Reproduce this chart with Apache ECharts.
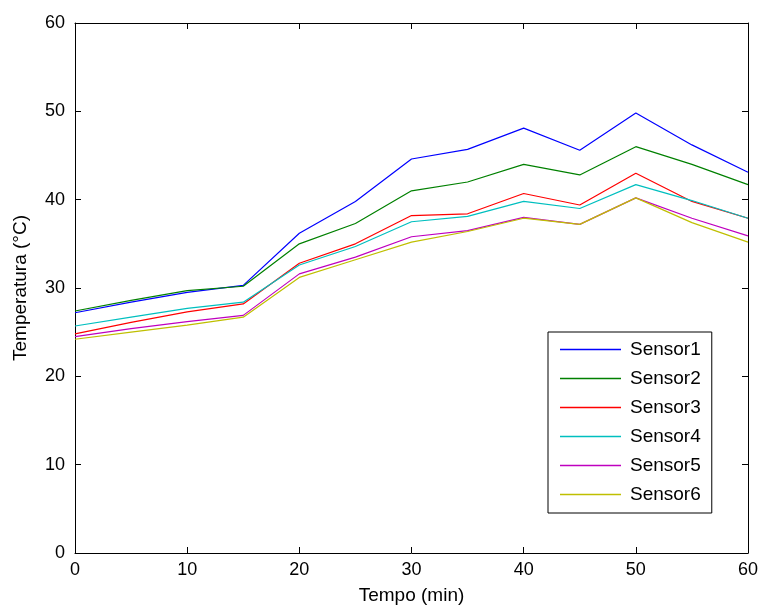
<!DOCTYPE html>
<html>
<head>
<meta charset="utf-8">
<script src="https://cdn.jsdelivr.net/npm/echarts@6/dist/echarts.min.js"></script>
<style>html,body{margin:0;padding:0;background:#fff}#c{width:760px;height:608px}</style>
</head>
<body>
<div id="c"></div>
<script>
const minutes = [0, 5, 10, 15, 20, 25, 30, 35, 40, 45, 50, 55, 60];
const sensor1 = [27.2, 28.4, 29.5, 30.3, 36.2, 39.8, 44.6, 45.7, 48.1, 45.6, 49.8, 46.2, 43.1];
const sensor2 = [27.4, 28.6, 29.7, 30.2, 35.0, 37.3, 41.0, 42.0, 44.0, 42.8, 46.0, 44.0, 41.7];
const sensor3 = [24.8, 26.1, 27.3, 28.2, 32.8, 35.0, 38.2, 38.4, 40.7, 39.4, 43.0, 39.8, 37.9];
const sensor4 = [25.7, 26.7, 27.7, 28.4, 32.6, 34.7, 37.5, 38.1, 39.8, 39.0, 41.7, 39.9, 37.9];
const sensor5 = [24.5, 25.4, 26.2, 26.9, 31.6, 33.5, 35.8, 36.5, 38.0, 37.2, 40.2, 37.9, 35.9];
const sensor6 = [24.2, 25.0, 25.8, 26.7, 31.2, 33.2, 35.2, 36.4, 37.9, 37.2, 40.2, 37.4, 35.2];
const seriesNames = ['Sensor1', 'Sensor2', 'Sensor3', 'Sensor4', 'Sensor5', 'Sensor6'];
const seriesValues = [sensor1, sensor2, sensor3, sensor4, sensor5, sensor6];
const seriesColors = ['#0000ff', '#008000', '#ff0000', '#00bfbf', '#bf00bf', '#bfbf00'];

const FONT = 'Liberation Sans, Arial, sans-serif';
const chart = echarts.init(document.getElementById('c'), null, {renderer: 'canvas'});
const axisCommon = {
  min: 0, max: 60, interval: 10,
  axisLine: {show: true, onZero: false, lineStyle: {color: '#000', width: 1}},
  axisTick: {show: true, inside: true, length: 6, lineStyle: {color: '#000'}},
  splitLine: {show: false}
};
chart.setOption({
  animation: false,
  backgroundColor: '#fff',
  color: seriesColors,
  textStyle: {fontFamily: FONT},
  grid: {left: 75, right: 12, top: 23, bottom: 55, containLabel: false, outerBoundsMode: 'none'},
  legend: {
    orient: 'vertical',
    left: 548, top: 332,
    padding: [8, 11, 9, 12],
    borderColor: '#000', borderWidth: 1, backgroundColor: '#fff',
    icon: 'rect',
    itemWidth: 61, itemHeight: 1.5, itemGap: 10,
    textStyle: {fontSize: 19, color: '#000', fontFamily: FONT, padding: [0, 0, 0, 4]},
    data: seriesNames
  },
  xAxis: [
    Object.assign({type: 'value', position: 'bottom',
      name: 'Tempo (min)', nameLocation: 'middle', nameGap: 33,
      nameTextStyle: {fontSize: 19, color: '#000', fontFamily: FONT},
      axisLabel: {fontSize: 18, color: '#000', margin: 8, fontFamily: FONT}}, axisCommon),
    Object.assign({type: 'value', position: 'top', axisLabel: {show: false}}, axisCommon)
  ],
  yAxis: [
    Object.assign({type: 'value', position: 'left',
      name: 'Temperatura (°C)', nameLocation: 'middle', nameGap: 45,
      nameTextStyle: {fontSize: 19, color: '#000', fontFamily: FONT},
      axisLabel: {fontSize: 18, color: '#000', margin: 10, fontFamily: FONT}}, axisCommon),
    Object.assign({type: 'value', position: 'right', axisLabel: {show: false}}, axisCommon)
  ],
  series: seriesNames.map((n, i) => ({
    name: n,
    type: 'line',
    symbol: 'none',
    color: seriesColors[i],
    itemStyle: {color: seriesColors[i]},
    lineStyle: {width: 1.2, color: seriesColors[i]},
    data: minutes.map((m, j) => [m, seriesValues[i][j]])
  }))
});
</script>
</body>
</html>
